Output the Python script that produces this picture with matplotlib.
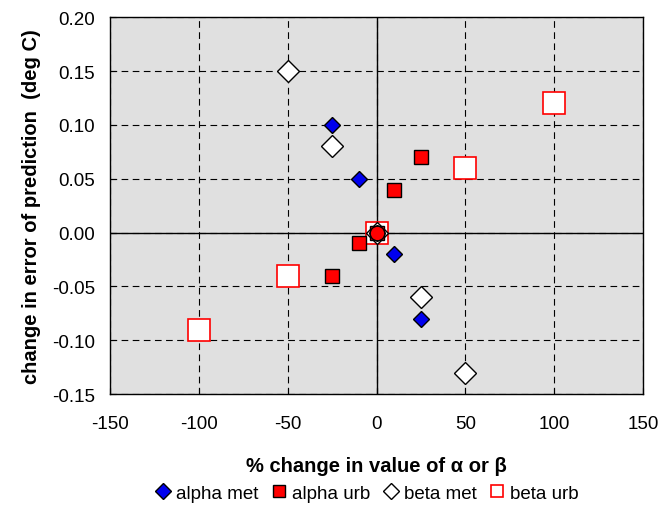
import matplotlib
matplotlib.use("Agg")
import matplotlib.pyplot as plt

plt.rcParams['font.family'] = ['Liberation Sans', 'DejaVu Sans']
plt.rcParams['axes.unicode_minus'] = False

# % change in parameter value
alpha_x = [-25, -10, 0, 10, 25]
beta_x = [-100, -50, 0, 50, 100]
beta_met_x = [-50, -25, 0, 25, 50]

# change in error of prediction (deg C)
alpha_met = [0.10, 0.05, 0.0, -0.02, -0.08]
alpha_urb = [-0.04, -0.01, 0.0, 0.04, 0.07]
beta_met = [0.15, 0.08, 0.0, -0.06, -0.13]
beta_urb = [-0.09, -0.04, 0.0, 0.06, 0.12]

xticks = [-150, -100, -50, 0, 50, 100, 150]
yticks = [-0.15, -0.10, -0.05, 0.00, 0.05, 0.10, 0.15, 0.20]

fig = plt.figure(figsize=(6.6, 5.06), dpi=100)
ax = fig.add_axes([0.167, 0.219, 0.807, 0.745])
ax.set_facecolor('#e0e0e0')

ax.set_xlim(-150, 150)
ax.set_ylim(-0.15, 0.20)
ax.set_xticks(xticks)
ax.set_yticks(yticks)
ax.set_yticklabels([f"{v:.2f}" for v in yticks])
ax.tick_params(direction='in', labelsize=13.5, length=4)
ax.tick_params(axis='x', pad=15)
ax.tick_params(axis='y', pad=11)
ax.grid(True, color='black', linestyle=(0, (6, 4)), linewidth=0.8)
ax.set_axisbelow(True)
ax.axhline(0, color='black', lw=1, zorder=1)
ax.axvline(0, color='black', lw=1, zorder=1)
for s in ax.spines.values():
    s.set_linewidth(1)

ax.plot(beta_x, beta_urb, ls='none', marker='s', ms=15.5, mfc='white',
        mec='red', mew=1.2, label='beta urb', zorder=3)
ax.plot(beta_met_x, beta_met, ls='none', marker='D', ms=11, mfc='white',
        mec='black', mew=1, label='beta met', zorder=4)
ax.plot(alpha_x, alpha_urb, ls='none', marker='s', ms=10, mfc='red',
        mec='black', mew=1, label='alpha urb', zorder=5)
ax.plot(alpha_x, alpha_met, ls='none', marker='D', ms=8, mfc='#0000ee',
        mec='black', mew=1, label='alpha met', zorder=6)
# overlapping markers at the origin
ax.plot([alpha_x[2]], [alpha_urb[2]], ls='none', marker='o', ms=10.5,
        mfc='red', mec='black', mew=1, zorder=7)

ax.set_xlabel('% change in value of α or β', fontsize=14.5, fontweight='bold', labelpad=17)
ax.set_ylabel('change in error of prediction  (deg C)', fontsize=14.5, fontweight='bold', labelpad=8)

h, l = ax.get_legend_handles_labels()
order = [3, 2, 1, 0]
leg = fig.legend([h[i] for i in order], [l[i] for i in order], loc='lower center',
                 bbox_to_anchor=(0.556, -0.027), ncol=4, frameon=False, fontsize=13.5,
                 handlelength=0.8, handletextpad=0.3, columnspacing=0.7)
for hd, ms in zip(leg.legend_handles, [8, 8, 8, 9]):
    hd.set_markersize(ms)

fig.savefig('out.png', dpi=100)
